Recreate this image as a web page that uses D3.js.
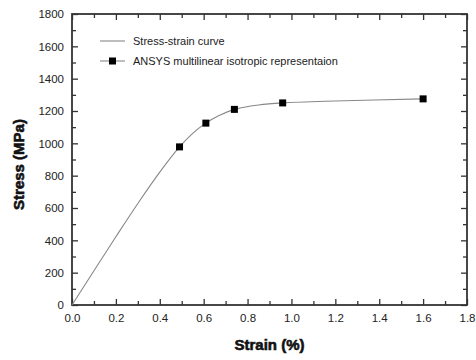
<!DOCTYPE html>
<html>
<head>
<meta charset="utf-8">
<script src="https://cdn.jsdelivr.net/npm/d3@7"></script>
<style>
  body { margin: 0; background: #fff; }
  text { font-family: "Liberation Sans", Arial, sans-serif; fill: #222; }
</style>
</head>
<body>
<div id="chart"></div>
<script>
// stress-strain curve
var curveStrain = [0, 0.1, 0.2, 0.3, 0.4, 0.49, 0.55, 0.61, 0.67, 0.74, 0.85, 0.96, 1.2, 1.6];
var curveStress = [0, 212, 422, 628, 822, 978, 1062, 1125, 1172, 1210, 1237, 1250, 1262, 1275];

// ANSYS multilinear points
var ansysStrain = [0.49, 0.61, 0.74, 0.96, 1.6];
var ansysStress = [978, 1125, 1210, 1250, 1275];

var xTicks = [0, 0.2, 0.4, 0.6, 0.8, 1.0, 1.2, 1.4, 1.6, 1.8];
var yTicks = [0, 200, 400, 600, 800, 1000, 1200, 1400, 1600, 1800];
var legendLabels = ["Stress-strain curve", "ANSYS multilinear isotropic representaion"];

var width = 476, height = 360,
    mLeft = 72, mRight = 467, mTop = 14, mBottom = 305;

var svg = d3.select("#chart").append("svg")
    .attr("width", width)
    .attr("height", height);

var x = d3.scaleLinear().domain([0, 1.8]).range([mLeft, mRight]);
var y = d3.scaleLinear().domain([0, 1800]).range([mBottom, mTop]);

var minorX = d3.range(0.1, 1.8, 0.2);
var minorY = d3.range(100, 1800, 200);

// bottom axis, ticks pointing in
svg.append("g")
    .attr("transform", "translate(0," + mBottom + ")")
    .call(d3.axisBottom(x).tickValues(xTicks).tickSizeInner(-6).tickSizeOuter(0)
      .tickFormat(d3.format(".1f")).tickPadding(9))
    .call(function(g) {
      g.select(".domain").remove();
      g.selectAll("text").style("font-size", "11.5px");
    });
svg.append("g")
    .attr("transform", "translate(0," + mBottom + ")")
    .call(d3.axisBottom(x).tickValues(minorX).tickSize(-4).tickFormat(""))
    .call(function(g) { g.select(".domain").remove(); });

// top axis
svg.append("g")
    .attr("transform", "translate(0," + mTop + ")")
    .call(d3.axisTop(x).tickValues(xTicks).tickSize(-6).tickFormat(""))
    .call(function(g) { g.select(".domain").remove(); });
svg.append("g")
    .attr("transform", "translate(0," + mTop + ")")
    .call(d3.axisTop(x).tickValues(minorX).tickSize(-4).tickFormat(""))
    .call(function(g) { g.select(".domain").remove(); });

// left axis
svg.append("g")
    .attr("transform", "translate(" + mLeft + ",0)")
    .call(d3.axisLeft(y).tickValues(yTicks).tickSizeInner(-6).tickSizeOuter(0).tickPadding(8)
      .tickFormat(d3.format("d")))
    .call(function(g) {
      g.select(".domain").remove();
      g.selectAll("text").style("font-size", "11.5px");
    });
svg.append("g")
    .attr("transform", "translate(" + mLeft + ",0)")
    .call(d3.axisLeft(y).tickValues(minorY).tickSize(-4).tickFormat(""))
    .call(function(g) { g.select(".domain").remove(); });

// right axis
svg.append("g")
    .attr("transform", "translate(" + mRight + ",0)")
    .call(d3.axisRight(y).tickValues(yTicks).tickSize(-6).tickFormat(""))
    .call(function(g) { g.select(".domain").remove(); });
svg.append("g")
    .attr("transform", "translate(" + mRight + ",0)")
    .call(d3.axisRight(y).tickValues(minorY).tickSize(-4).tickFormat(""))
    .call(function(g) { g.select(".domain").remove(); });

svg.selectAll(".tick line").attr("stroke", "#333").attr("stroke-width", 1.3);

// frame
svg.append("rect")
    .attr("x", mLeft).attr("y", mTop)
    .attr("width", mRight - mLeft).attr("height", mBottom - mTop)
    .attr("fill", "none").attr("stroke", "#333").attr("stroke-width", 1.8);

// curve
var curveData = curveStrain.map(function(s, i) { return [s, curveStress[i]]; });
var line = d3.line()
    .x(function(d) { return x(d[0]); })
    .y(function(d) { return y(d[1]); })
    .curve(d3.curveCatmullRom.alpha(0.5));

svg.append("path")
    .datum(curveData)
    .attr("d", line)
    .attr("fill", "none")
    .attr("stroke", "#888")
    .attr("stroke-width", 1.1);

// ANSYS markers
svg.selectAll(".pt")
    .data(ansysStrain.map(function(s, i) { return [s, ansysStress[i]]; }))
  .enter().append("rect")
    .attr("class", "pt")
    .attr("x", function(d) { return x(d[0]) - 3.5; })
    .attr("y", function(d) { return y(d[1]) - 3.5; })
    .attr("width", 7).attr("height", 7)
    .attr("fill", "#000");

// legend
var legend = svg.append("g").attr("transform", "translate(100,41)");
legend.append("line")
    .attr("x1", 0).attr("x2", 25).attr("y1", 0).attr("y2", 0)
    .attr("stroke", "#888").attr("stroke-width", 1.1);
legend.append("line")
    .attr("x1", 0).attr("x2", 25).attr("y1", 20).attr("y2", 20)
    .attr("stroke", "#888").attr("stroke-width", 1.1);
legend.append("rect")
    .attr("x", 9).attr("y", 16.5).attr("width", 7).attr("height", 7)
    .attr("fill", "#000");
legend.selectAll("text.lg")
    .data(legendLabels)
  .enter().append("text")
    .attr("class", "lg")
    .attr("x", 33)
    .attr("y", function(d, i) { return i * 20 + 4; })
    .style("font-size", "11px")
    .text(function(d) { return d; });

// axis titles
svg.append("text")
    .attr("x", (mLeft + mRight) / 2)
    .attr("y", 350)
    .attr("text-anchor", "middle")
    .style("font-size", "15px")
    .style("font-weight", "bold")
    .style("fill", "#111")
    .style("stroke", "#111")
    .style("stroke-width", 0.6)
    .text("Strain (%)");

svg.append("text")
    .attr("transform", "translate(24," + ((mTop + mBottom) / 2 + 5) + ") rotate(-90)")
    .attr("text-anchor", "middle")
    .style("font-size", "15px")
    .style("font-weight", "bold")
    .style("fill", "#111")
    .style("stroke", "#111")
    .style("stroke-width", 0.6)
    .text("Stress (MPa)");
</script>
</body>
</html>
